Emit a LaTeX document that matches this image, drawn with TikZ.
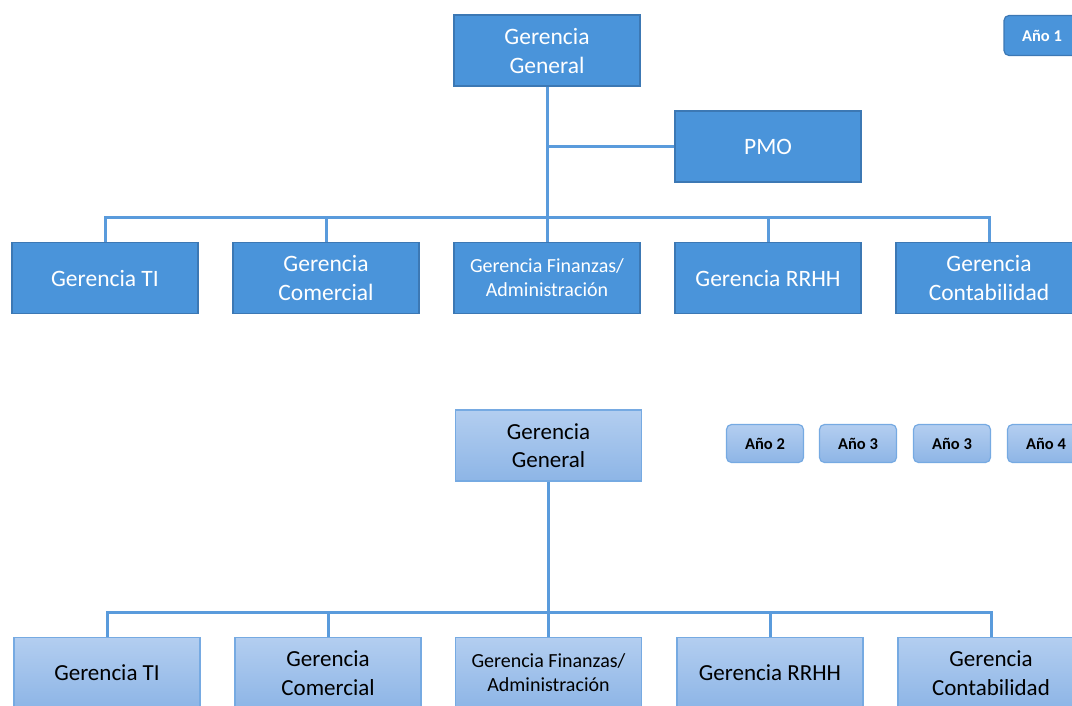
\documentclass[tikz,border=0pt]{standalone}
\usepackage{fontspec}
\setmainfont{Carlito}
\definecolor{topfill}{HTML}{4A94DA}
\definecolor{topedge}{HTML}{3C78B4}
\definecolor{linkc}{HTML}{5A9BDC}
\definecolor{lighttop}{HTML}{B3CEF0}
\definecolor{lightbot}{HTML}{8DB5E6}
\definecolor{lightedge}{HTML}{76AAE2}
\tikzset{
  darkbox/.style={draw=topedge, fill=topfill, line width=1.2pt, text=white,
    minimum width=186pt, minimum height=71pt, inner sep=0pt, align=center,
    font=\fontsize{23.5}{29}\selectfont},
  lightbox/.style={draw=lightedge, top color=lighttop, bottom color=lightbot, line width=1.2pt, text=black,
    minimum width=186pt, minimum height=71pt, inner sep=0pt, align=center,
    font=\fontsize{23}{28.5}\selectfont},
  smalltext/.style={font=\fontsize{20}{24}\selectfont},
  yeardark/.style={draw=topedge, fill=topfill, line width=1.2pt, rounded corners=5pt, text=white,
    minimum width=76pt, minimum height=40pt, inner sep=0pt, font=\fontsize{16.5}{18}\selectfont\bfseries},
  yearlight/.style={draw=lightedge, top color=lighttop, bottom color=lightbot, line width=1.2pt, rounded corners=5pt, text=black,
    minimum width=77pt, minimum height=38pt, inner sep=0pt, font=\fontsize{16.5}{18}\selectfont\bfseries},
  link/.style={draw=linkc, line width=3pt}
}
\begin{document}
\begin{tikzpicture}[x=1pt, y=-1pt]
\useasboundingbox (0,0) rectangle (1072,705);
\clip (0,0) rectangle (1072,705);

% ---- first chart ----
\node[darkbox] (gg1) at (547,50.5) {Gerencia\\General};
\node[darkbox] (pmo) at (768,146.5) {PMO};
\node[darkbox] (ti1) at (105,278) {Gerencia TI};
\node[darkbox] (com1) at (326,278) {Gerencia\\Comercial};
\node[darkbox, smalltext] (fin1) at (547,278) {Gerencia Finanzas/\\Administración};
\node[darkbox] (rh1) at (768,278) {Gerencia RRHH};
\node[darkbox] (con1) at (989,278) {Gerencia\\Contabilidad};
\node[yeardark] (y1) at (1042,35.5) {Año 1};

\coordinate (bus1) at (547,217);
\draw[link] (gg1.south) -- (gg1.south |- bus1);
\draw[link] (pmo.west) -- (pmo.west -| gg1.south);
\draw[link] (ti1.north) -- (ti1.north |- bus1) -- (con1.north |- bus1) -- (con1.north);
\foreach \n in {com1,fin1,rh1} \draw[link] (\n.north) -- (\n.north |- bus1);

% ---- second chart ----
\node[lightbox] (gg2) at (548.5,445.5) {Gerencia\\General};
\node[lightbox] (ti2) at (107,673) {Gerencia TI};
\node[lightbox] (com2) at (328,673) {Gerencia\\Comercial};
\node[lightbox, smalltext] (fin2) at (548.5,673) {Gerencia Finanzas/\\Administración};
\node[lightbox] (rh2) at (770,673) {Gerencia RRHH};
\node[lightbox] (con2) at (991,673) {Gerencia\\Contabilidad};
\node[yearlight] (y2) at (765,443.5) {Año 2};
\node[yearlight] (y3) at (858,443.5) {Año 3};
\node[yearlight] (y3b) at (952,443.5) {Año 3};
\node[yearlight] (y4) at (1046,443.5) {Año 4};

\coordinate (bus2) at (548.5,612);
\draw[link] (gg2.south) -- (gg2.south |- bus2);
\draw[link] (ti2.north) -- (ti2.north |- bus2) -- (con2.north |- bus2) -- (con2.north);
\foreach \n in {com2,fin2,rh2} \draw[link] (\n.north) -- (\n.north |- bus2);
\end{tikzpicture}
\end{document}
